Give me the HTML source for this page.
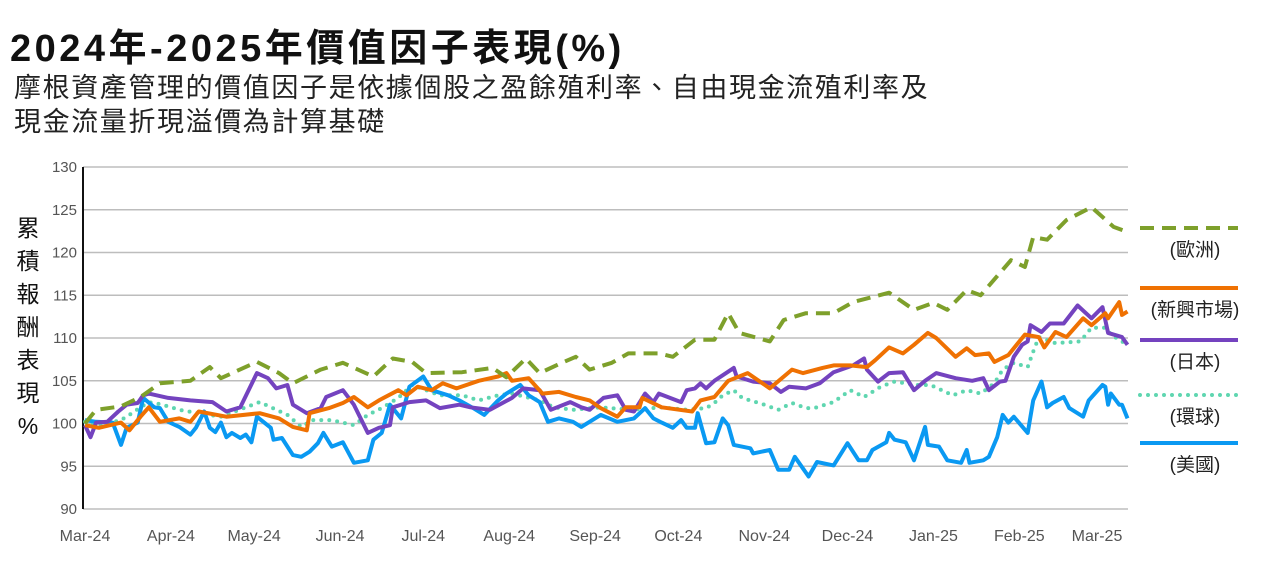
<!DOCTYPE html>
<html><head><meta charset="utf-8">
<style>
body{margin:0;background:#fff;width:1280px;height:565px;overflow:hidden;font-family:"Liberation Sans","Noto Sans CJK TC",sans-serif;}
#title{position:absolute;left:10px;top:17px;font-size:38px;font-weight:bold;color:#111;letter-spacing:3.5px;white-space:nowrap}
#sub{position:absolute;left:14px;top:71px;font-size:27px;line-height:34px;color:#222;letter-spacing:1.6px;white-space:nowrap}
svg{position:absolute;left:0;top:0}
</style></head><body>
<div id="title">2024年-2025年價值因子表現(%)</div>
<div id="sub">摩根資產管理的價值因子是依據個股之盈餘殖利率、自由現金流殖利率及<br>現金流量折現溢價為計算基礎</div>
<svg id="chart" width="1280" height="565"></svg>
<script>
const yTicks=[90,95,100,105,110,115,120,125,130];
const xLabels=["Mar-24","Apr-24","May-24","Jun-24","Jul-24","Aug-24","Sep-24","Oct-24","Nov-24","Dec-24","Jan-25","Feb-25","Mar-25"];
const xLabelDays=[0,31,61,92,122,153,184,214,245,275,306,337,365];
const europeDays=[0,4,13,20,27,38,45,49,62,70,75,85,93,104,111,118,123,136,147,152,159,164,172,177,182,190,196,207,212,220,227,232,236,247,252,260,270,277,290,299,306,311,318,323,334,339,342,347,354,363,371,376];
const europeVals=[100,101.6,102,103.1,104.7,105,106.6,105.3,107.2,105.9,104.7,106.3,107.1,105.5,107.6,107.2,105.9,106,106.5,105.4,107.6,105.9,107.1,107.8,106.3,107.1,108.2,108.2,107.8,109.8,109.8,112.9,110.6,109.6,112.1,112.9,112.9,114.2,115.3,113.3,114.1,113.3,115.6,115,119.1,118.3,121.8,121.5,123.8,125.3,123,122.4];
const emDays=[0,5,13,16,20,23,27,34,38,41,51,63,70,75,80,81,88,93,97,102,106,113,116,120,125,129,134,142,149,152,154,160,165,171,177,182,186,192,195,200,201,208,219,222,227,232,239,247,255,259,266,270,276,282,285,290,295,299,304,307,314,318,321,326,328,333,339,344,346,350,354,360,363,368,369,373,374,376];
const emVals=[99.8,99.5,100.1,99.2,100.8,101.9,100.2,100.6,100.2,101.4,100.8,101.2,100.6,99.6,99.2,101.2,101.8,102.4,103.1,101.9,102.7,103.9,103.3,104.3,103.9,104.7,104.1,105,105.5,105.9,105,105.3,103.5,103.7,103.1,102.7,101.8,100.8,101.9,101.9,103,101.9,101.4,102.7,103.1,105,105.9,104.1,106.3,105.9,106.5,106.8,106.8,106.6,107.4,108.9,108.2,109.2,110.6,110,107.8,108.8,108,108.2,107.2,108,110.4,110.1,108.9,110.7,110.1,112.3,111.5,112.9,112.3,114.2,112.7,113.1];
const japanDays=[0,2,4,8,12,15,19,21,23,30,38,46,51,56,62,66,69,73,75,80,85,87,93,97,102,106,110,111,117,123,128,135,139,146,154,158,164,168,175,179,182,187,192,195,198,202,205,207,215,217,220,222,224,227,234,235,241,247,251,254,260,265,270,277,281,282,286,290,295,299,303,307,314,320,324,326,330,332,335,338,340,341,345,348,353,358,363,367,369,374,376];
const japanVals=[99.8,98.4,100.1,100.2,101.4,102.2,102.4,103.3,103.5,103,102.7,102.5,101.4,101.9,105.9,105.3,104.1,104.5,102.2,101.2,101.8,103.1,103.9,102.2,98.9,99.5,99.8,101.9,102.5,102.7,101.8,102.2,101.9,101.6,103,104.1,103.9,101.6,102.5,101.9,101.6,103,103.3,101.6,101.4,103.5,102.5,103.5,102.5,103.9,104.1,104.7,104.1,105,106.5,105.5,104.9,104.7,103.7,104.3,104.1,104.7,106,106.8,107.6,106.3,104.9,105.9,106,103.9,105,105.9,105.3,105,105.3,103.9,104.9,105,107.8,109.2,109.6,111.5,110.7,111.7,111.7,113.8,112.3,113.6,110.6,110.1,109.2];
const globalDays=[0,5,13,16,20,23,28,34,41,49,63,73,78,82,89,97,102,107,113,118,128,136,142,149,154,164,169,176,186,197,208,217,224,227,230,234,237,245,250,255,260,263,270,276,281,287,292,300,305,313,318,323,328,331,335,340,342,344,350,359,363,368,370,375];
const globalVals=[100.2,99.8,100.4,101,101.9,102.5,102.2,101.6,101.2,100.8,102.5,101,99.6,100.4,100.4,99.8,101,101.8,103,104.5,103.3,103.3,102.7,103.3,103.5,102.7,101.9,101.6,101.9,101.6,101.9,101.6,101.8,102.4,103.3,103.9,103,102.2,101.6,102.4,101.8,101.8,102.5,103.9,103.1,104.3,104.9,104.5,104.5,103.3,103.9,103.5,104.7,106.3,107.1,106.6,108.4,110.1,109.4,109.6,111.2,111.2,110.4,109.4];
const usDays=[0,4,10,13,15,19,21,25,27,30,34,38,40,43,45,47,49,51,53,56,58,60,62,67,68,71,75,78,81,84,86,89,93,97,102,104,107,110,114,117,122,125,131,135,140,144,149,152,157,160,164,167,171,176,179,186,192,198,202,205,208,212,215,217,220,221,224,227,230,232,234,240,241,247,250,254,256,261,264,270,275,279,282,284,289,290,292,296,299,303,304,308,311,316,318,319,324,326,329,331,333,335,340,342,345,347,349,353,355,360,362,367,368,369,370,373,374,376];
const usVals=[100.4,100.2,100.1,97.5,99.5,100.1,103,101.9,101.8,100.2,99.6,98.7,99.5,101.4,99.5,99,100.1,98.4,98.9,98.3,98.7,97.8,100.8,99.5,98.1,98.3,96.3,96.1,96.7,97.7,98.9,97.3,97.8,95.4,95.7,98.1,98.9,102.2,100.6,104.3,105.5,103.9,103.3,102.7,101.8,101,102.7,103.5,104.5,103.3,102.5,100.2,100.6,100.2,99.6,101,100.2,100.6,101.8,100.6,100.1,99.5,100.4,99.5,99.5,101.2,97.7,97.8,100.6,99.8,97.5,97.1,96.5,96.9,94.6,94.6,96.1,93.8,95.5,95.1,97.7,95.7,95.7,96.9,97.8,98.9,98.1,97.8,95.7,99.6,97.5,97.3,95.7,95.4,96.9,95.4,95.7,96.1,98.4,101,100.1,100.8,98.9,102.7,104.9,101.9,102.4,103.1,101.8,100.8,102.7,104.5,104.3,102.2,103.5,102.2,102.2,100.6];

const X0=85, PXD=(1097-85)/365, YTOP=167, YBOT=509;
const xs=d=>X0+d*PXD;
const ys=v=>YBOT-(v-90)*(YBOT-YTOP)/40;
const svg=document.getElementById('chart');
const NS='http://www.w3.org/2000/svg';
function mk(t,a){const e=document.createElementNS(NS,t);for(const k in a)e.setAttribute(k,a[k]);svg.appendChild(e);return e;}

yTicks.forEach(v=>{
  const g=mk('line',{x1:83,x2:1128,y1:ys(v),y2:ys(v),stroke:'#bdbdbd','stroke-width':1.5});
  
  
  const t=mk('text',{x:77,y:ys(v)+5,'text-anchor':'end','font-size':15,fill:'#555','font-family':'Liberation Sans, sans-serif'});
  t.textContent=v;
  
  
});
const ax=mk('line',{x1:83,x2:83,y1:167,y2:509,stroke:'#111','stroke-width':2});


xLabels.forEach((l,i)=>{
  const t=mk('text',{x:xs(xLabelDays[i]),y:541,'text-anchor':'middle','font-size':16,fill:'#555','font-family':'Liberation Sans, sans-serif'});
  t.textContent=l;
  
  
});
const ytitle="累積報酬表現%".split('');
ytitle.forEach((c,i)=>{
  const t=mk('text',{x:28,y:236+i*33,'text-anchor':'middle','font-size':23,fill:'#111','font-family':'Liberation Sans, Noto Sans CJK TC, sans-serif'});
  t.textContent=c;
  
  
});
function series(days,vals,color,dash,cap,name){
  const d=days.map((dd,i)=>(i?'L':'M')+xs(dd).toFixed(1)+','+ys(vals[i]).toFixed(1)).join('');
  const p=mk('path',{d:d,fill:'none',stroke:color,'stroke-width':4,'stroke-linejoin':'round','stroke-linecap':cap});
  if(dash)p.setAttribute('stroke-dasharray',dash);
  
  
}
series(globalDays,globalVals,'#5fd6b0','0 8','round','series-global');
series(usDays,usVals,'#0a99f2',null,'butt','series-us');
series(japanDays,japanVals,'#7443bf',null,'butt','series-japan');
series(emDays,emVals,'#ef7102',null,'butt','series-emerging');
series(europeDays,europeVals,'#7ea02b','14 8','butt','series-europe');

const legNames=["(歐洲)","(新興市場)","(日本)","(環球)","(美國)"];
const legColors=['#7ea02b','#ef7102','#7443bf','#5fd6b0','#0a99f2'];
const legDash=['14 8',null,null,'0 8',null];
const legLineY=[228,288,340,395,443];
legNames.forEach((n,i)=>{
  const l=mk('line',{x1:1140,x2:1238,y1:legLineY[i],y2:legLineY[i],stroke:legColors[i],'stroke-width':4,'stroke-linecap':legDash[i]==='0 8'?'round':'butt'});
  if(legDash[i])l.setAttribute('stroke-dasharray',legDash[i]);
  
  
  const t=mk('text',{x:1195,y:legLineY[i]+28,'text-anchor':'middle','font-size':19,fill:'#222','font-family':'Liberation Sans, Noto Sans CJK TC, sans-serif'});
  t.textContent=n;
  
  
});
</script>
</body></html>
